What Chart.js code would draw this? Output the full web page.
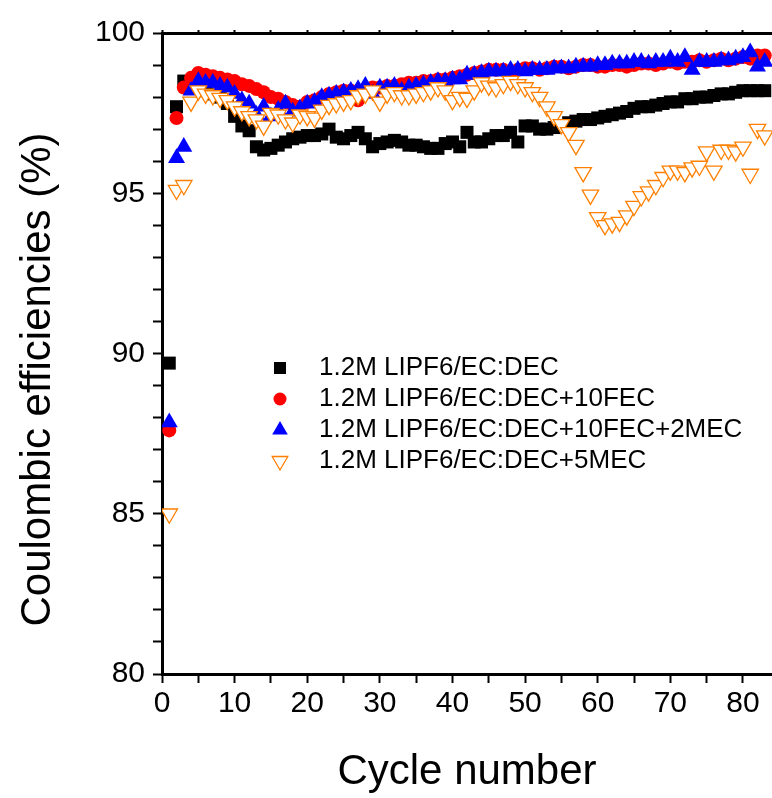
<!DOCTYPE html>
<html>
<head>
<meta charset="utf-8">
<script src="https://cdn.jsdelivr.net/npm/chart.js@4.4.0/dist/chart.umd.min.js"></script>
<style>
  html, body { margin: 0; padding: 0; background: #fff; overflow: hidden; }
  canvas { display: block; }
</style>
</head>
<body>
<canvas id="ceChart" width="772" height="798"></canvas>
<script>
// cycle number (x)
const cycles = [
  1, 2, 3, 4, 5, 6, 7, 8, 9, 10,
  11, 12, 13, 14, 15, 16, 17, 18, 19, 20,
  21, 22, 23, 24, 25, 26, 27, 28, 29, 30,
  31, 32, 33, 34, 35, 36, 37, 38, 39, 40,
  41, 42, 43, 44, 45, 46, 47, 48, 49, 50,
  51, 52, 53, 54, 55, 56, 57, 58, 59, 60,
  61, 62, 63, 64, 65, 66, 67, 68, 69, 70,
  71, 72, 73, 74, 75, 76, 77, 78, 79, 80,
  81, 82, 83
];

// 1.2M LIPF6/EC:DEC
const ceBase = [
  89.7, 97.7, 98.5, 98.4, 98.3, 98.2, 98.1, 98.0, 97.8, 97.4,
  97.1, 96.95, 96.45, 96.35, 96.4, 96.5, 96.6, 96.7, 96.75, 96.8,
  96.8, 96.85, 97.0, 96.75, 96.7, 96.8, 96.9, 96.7, 96.45, 96.55,
  96.6, 96.65, 96.6, 96.5, 96.5, 96.45, 96.4, 96.4, 96.55, 96.6,
  96.45, 96.9, 96.6, 96.6, 96.7, 96.8, 96.8, 96.9, 96.6, 97.1,
  97.1, 97.0, 97.0, 97.05, 97.1, 97.2, 97.25, 97.3, 97.3, 97.35,
  97.4, 97.45, 97.5, 97.55, 97.65, 97.7, 97.7, 97.75, 97.8, 97.85,
  97.85, 97.95, 97.95, 98.0, 98.0, 98.05, 98.1, 98.1, 98.15, 98.2,
  98.2, 98.2, 98.2
];

// +10FEC
const ceFec = [
  87.6, 97.35, 98.3, 98.6, 98.75, 98.7, 98.65, 98.6, 98.55, 98.5,
  98.4, 98.35, 98.25, 98.15, 98.0, 97.95, 97.85, 97.75, 97.7, 97.85,
  97.9, 98.0, 98.1, 98.15, 98.2, 98.2, 97.9, 98.25, 98.3, 98.3,
  98.35, 98.35, 98.4, 98.45, 98.45, 98.5, 98.5, 98.55, 98.55, 98.6,
  98.65, 98.7, 98.75, 98.8, 98.85, 98.85, 98.85, 98.8, 98.85, 98.9,
  98.9, 98.85, 98.9, 98.95, 98.95, 98.9, 98.95, 99.0, 99.0, 98.95,
  98.95, 99.0, 99.0, 98.95, 99.0, 99.05, 99.05, 99.0, 99.05, 99.1,
  99.05, 99.1, 99.1, 99.15, 99.1, 99.15, 99.2, 99.15, 99.2, 99.25,
  99.2, 99.3, 99.3
];

// +10FEC+2MEC
const ceFecMec = [
  87.85, 96.1, 96.45, 98.2, 98.5, 98.45, 98.45, 98.35, 98.3, 98.1,
  97.9, 97.8, 97.45, 97.7, 97.4, 97.6, 97.8, 97.55, 97.65, 97.8,
  97.85, 98.0, 98.05, 98.1, 98.15, 98.2, 98.25, 98.35, 98.1, 98.3,
  98.3, 98.35, 98.2, 98.3, 98.35, 98.4, 98.45, 98.5, 98.5, 98.55,
  98.55, 98.7, 98.7, 98.75, 98.8, 98.8, 98.8, 98.85, 98.85, 98.8,
  98.85, 98.85, 98.85, 98.9, 98.9, 98.9, 98.95, 98.95, 98.95, 99.0,
  99.0, 99.05, 99.05, 99.05, 99.1, 99.1, 99.05, 99.1, 99.1, 99.2,
  99.1, 99.25, 98.85, 99.1, 99.1, 99.1, 99.15, 99.15, 99.2, 99.25,
  99.4, 98.95, 99.1
];

// +5MEC
const ceMec = [
  85.0, 95.1, 95.25, 97.85, 98.2, 98.1, 98.05, 97.97, 97.9, 97.7,
  97.55, 97.4, 97.3, 97.1, 97.5, 97.45, 97.3, 97.2, 97.45, 97.4,
  97.35, 97.6, 97.75, 97.8, 97.85, 97.9, 98.05, 98.1, 98.2, 97.85,
  98.1, 98.15, 98.05, 98.05, 98.1, 98.15, 98.2, 98.3, 98.2, 97.9,
  98.0, 97.97, 98.2, 98.45, 98.35, 98.3, 98.4, 98.5, 98.4, 98.3,
  98.15, 98.0, 97.7, 97.4, 97.15, 96.9, 96.5, 95.65, 94.95, 94.25,
  94.0, 94.05, 94.1, 94.3, 94.6, 94.9, 95.05, 95.25, 95.5, 95.7,
  95.7, 95.65, 95.8, 95.85, 96.3, 95.7, 96.35, 96.35, 96.3, 96.45,
  95.6, 97.0, 96.8
];

const seriesNames = [
  '1.2M LIPF6/EC:DEC',
  '1.2M LIPF6/EC:DEC+10FEC',
  '1.2M LIPF6/EC:DEC+10FEC+2MEC',
  '1.2M LIPF6/EC:DEC+5MEC'
];

const yTitle = 'Coulombic efficiencies (%)';

const FONT = "'Liberation Sans', Arial, sans-serif";
const ORANGE = '#ff8000';

function toPoints(ys) {
  return ys.map((y, i) => ({ x: cycles[i], y }));
}

// 범례 (그래프 안쪽에 직접 그림)
const legendMarkers = [
  { style: 'rect', size: 6, fill: '#000', stroke: null },
  { style: 'circle', size: 6.5, fill: '#ff0000', stroke: null },
  { style: 'triangle', size: 9, fill: '#0000ff', stroke: null },
  { style: 'down', size: 9, fill: '#fff', stroke: ORANGE }
];

function drawMarker(ctx, m, x, y) {
  ctx.beginPath();
  if (m.style === 'rect') {
    ctx.rect(x - m.size, y - m.size, m.size * 2, m.size * 2);
  } else if (m.style === 'circle') {
    ctx.arc(x, y, m.size, 0, Math.PI * 2);
  } else {
    const dir = m.style === 'down' ? -1 : 1;
    const r = m.size;
    ctx.moveTo(x, y - dir * r);
    ctx.lineTo(x + r * 0.866, y + dir * r * 0.5);
    ctx.lineTo(x - r * 0.866, y + dir * r * 0.5);
    ctx.closePath();
  }
  ctx.fillStyle = m.fill;
  ctx.fill();
  if (m.stroke) {
    ctx.strokeStyle = m.stroke;
    ctx.lineWidth = 1.3;
    ctx.stroke();
  }
}

const insideLegend = {
  id: 'insideLegend',
  afterDraw(chart) {
    const { ctx, chartArea } = chart;
    const mx = chartArea.left + 118;
    const tx = chartArea.left + 157;
    const y0 = chartArea.top + 335;
    ctx.save();
    ctx.font = `26px ${FONT}`;
    ctx.textBaseline = 'middle';
    ctx.textAlign = 'left';
    seriesNames.forEach((name, i) => {
      const y = y0 + i * 31;
      drawMarker(ctx, legendMarkers[i], mx, y);
      ctx.fillStyle = '#000';
      ctx.fillText(name, tx, y);
    });
    ctx.restore();
  }
};

// y축 제목 (원본처럼 약간 아래쪽에 배치)
const yAxisTitle = {
  id: 'yAxisTitle',
  afterDraw(chart) {
    const { ctx, chartArea } = chart;
    const cx = chartArea.left - 124;
    const cy = (chartArea.top + chartArea.bottom) / 2 + 26;
    ctx.save();
    ctx.translate(cx, cy);
    ctx.rotate(-Math.PI / 2);
    ctx.font = `42px ${FONT}`;
    ctx.fillStyle = '#000';
    ctx.textAlign = 'center';
    ctx.textBaseline = 'middle';
    ctx.fillText(yTitle, 0, 0);
    ctx.restore();
  }
};

const axisTicks = {
  drawOnChartArea: false,
  drawTicks: true,
  tickLength: 9,
  tickWidth: 2,
  tickColor: '#000'
};

function fixHeight(h) {
  return s => { s.height = h; s.paddingLeft = 0; s.paddingRight = 0; };
}

new Chart(document.getElementById('ceChart').getContext('2d'), {
  type: 'scatter',
  data: {
    datasets: [
      {
        label: seriesNames[0], data: toPoints(ceBase), order: 4,
        pointStyle: 'rect', pointRadius: 9.2, pointBackgroundColor: '#000', pointBorderWidth: 0
      },
      {
        label: seriesNames[1], data: toPoints(ceFec), order: 3,
        pointStyle: 'circle', pointRadius: 7, pointBackgroundColor: '#ff0000', pointBorderWidth: 0
      },
      {
        label: seriesNames[2], data: toPoints(ceFecMec), order: 2,
        pointStyle: 'triangle', pointRadius: 9.8, pointBackgroundColor: '#0000ff', pointBorderWidth: 0
      },
      {
        label: seriesNames[3], data: toPoints(ceMec), order: 1,
        pointStyle: 'triangle', pointRotation: 180, pointRadius: 9.5,
        pointBackgroundColor: '#fff', pointBorderColor: ORANGE, pointBorderWidth: 1.3
      }
    ]
  },
  options: {
    responsive: false,
    animation: false,
    layout: { padding: 0, autoPadding: false },
    plugins: {
      legend: { display: false },
      tooltip: { enabled: false }
    },
    scales: {
      x: {
        type: 'linear',
        position: 'bottom',
        min: 0,
        max: 84,
        afterFit: fixHeight(124),
        border: { color: '#000', width: 3 },
        grid: axisTicks,
        ticks: {
          stepSize: 5,
          includeBounds: false,
          autoSkip: false,
          maxRotation: 0,
          padding: 3,
          color: '#000',
          font: { family: FONT, size: 30 },
          callback: v => (v % 10 === 0 ? v : '')
        },
        title: {
          display: true,
          text: 'Cycle number',
          color: '#000',
          font: { family: FONT, size: 42 },
          padding: { top: 0, bottom: 0 }
        }
      },
      xTop: {
        type: 'linear',
        position: 'top',
        min: 0,
        max: 84,
        afterFit: fixHeight(33),
        border: { color: '#000', width: 3 },
        grid: { drawOnChartArea: false, drawTicks: true, tickLength: 3, tickWidth: 2, tickColor: '#000' },
        ticks: { stepSize: 5, includeBounds: false, autoSkip: false, padding: 0, callback: () => '' }
      },
      y: {
        min: 80,
        max: 100,
        afterFit: s => { s.width = 162; },
        border: { color: '#000', width: 3 },
        grid: axisTicks,
        ticks: {
          stepSize: 1,
          autoSkip: false,
          padding: 8,
          color: '#000',
          font: { family: FONT, size: 30 },
          callback: v => (v % 5 === 0 ? v : '')
        }
      }
    }
  },
  plugins: [insideLegend, yAxisTitle]
});
</script>
</body>
</html>
